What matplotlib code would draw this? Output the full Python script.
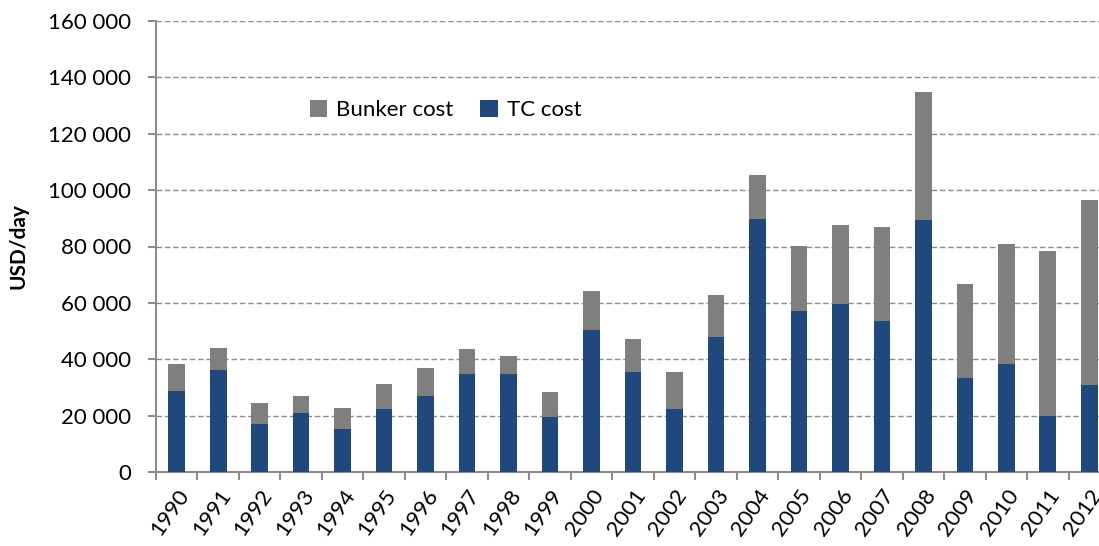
import matplotlib.pyplot as plt
import numpy as np

plt.rcParams['font.family'] = ['Lato', 'DejaVu Sans']

years = [str(y) for y in range(1990, 2013)]
tc_cost = [28700, 36200, 17000, 20900, 15300, 22300, 27000, 34800, 34800, 19500,
           50400, 35500, 22300, 47900, 89700, 57100, 59600, 53500, 89400, 33300,
           38300, 19900, 30800]
total_cost = [38300, 44000, 24500, 27000, 22700, 31200, 36900, 43600, 41100, 28400,
              64200, 47200, 35500, 62800, 105300, 80100, 87600, 86900, 134800, 66700,
              80900, 78400, 96500]
bunker_cost = [t - c for t, c in zip(total_cost, tc_cost)]

x = np.arange(len(years))

fig = plt.figure(figsize=(10.99, 5.46), dpi=100)
ax = fig.add_axes([156 / 1099, 74 / 546, 954 / 1099, 451 / 546])

ax.bar(x, tc_cost, width=0.4, color='#1f497d', label='TC cost', zorder=3)
ax.bar(x, bunker_cost, width=0.4, bottom=tc_cost, color='#7f7f7f', label='Bunker cost', zorder=3)

ax.set_xlim(-0.5, len(years) - 0.5)
ax.set_ylim(0, 160000)
ax.set_yticks(np.arange(0, 160001, 20000))
ax.set_yticklabels([f"{v:,}".replace(",", " ") for v in range(0, 160001, 20000)], fontsize=16)
ax.yaxis.grid(True, linestyle=(0, (4, 2)), color='#8c8c8c', linewidth=1, zorder=0)

ax.set_xticks(x)
ax.set_xticklabels(years, rotation=55, ha='right', va='top', rotation_mode='anchor', fontsize=16)
ax.set_xticks(np.arange(-0.5, len(years), 1), minor=True)
ax.tick_params(axis='x', which='major', length=0, pad=10)
ax.tick_params(axis='x', which='minor', length=6, color='#8c8c8c', width=1.5)
ax.tick_params(axis='y', length=6, color='#8c8c8c', width=1.5, pad=12)

for side in ['top', 'right']:
    ax.spines[side].set_visible(False)
for side in ['left', 'bottom']:
    ax.spines[side].set_color('#8c8c8c')
    ax.spines[side].set_linewidth(1.5)

ax.set_ylabel('USD/day', fontsize=15, fontweight='bold', labelpad=14)

handles, labels = ax.get_legend_handles_labels()
ax.legend(handles[::-1], labels[::-1], loc='upper left', bbox_to_anchor=(0.14, 0.87),
          ncol=2, frameon=False, fontsize=16, handlelength=0.8, handleheight=0.8,
          handletextpad=0.4, columnspacing=1.2)

fig.savefig('out.png', dpi=100)
